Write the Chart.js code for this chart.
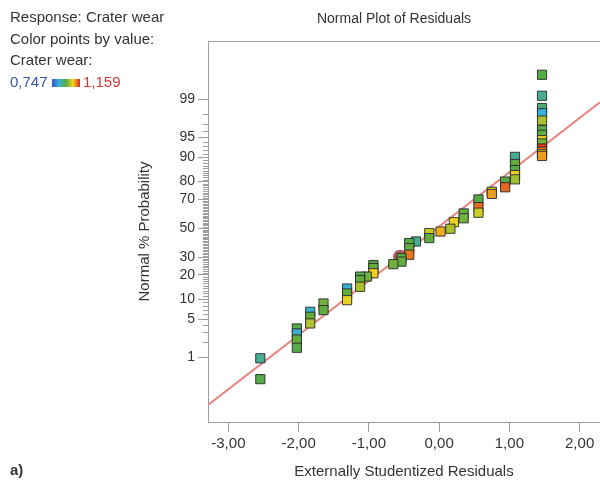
<!DOCTYPE html>
<html>
<head>
<meta charset="utf-8">
<script src="https://cdn.jsdelivr.net/npm/chart.js@4.4.1/dist/chart.umd.min.js"></script>
<style>
  html, body { margin: 0; padding: 0; background: #fff; }
  #wrap { position: relative; width: 600px; height: 482px; font-family: "Liberation Sans", Arial, sans-serif; color: #333; }
  #chart { position: absolute; left: 0; top: 0; }
  .txt { position: absolute; font-size: 15px; line-height: 18px; white-space: nowrap; }
  #bar { position: absolute; left: 52px; top: 79px; width: 28px; height: 8px; }
</style>
</head>
<body>
<div id="wrap">
  <canvas id="chart" width="600" height="482"></canvas>
  <div class="txt" style="left:10px; top:8px;">Response: Crater wear</div>
  <div class="txt" style="left:10px; top:30px;">Color points by value:</div>
  <div class="txt" style="left:10px; top:51px;">Crater wear:</div>
  <div class="txt" id="lo" style="left:10px; top:73px; color:#3a55a3;"></div>
  <div id="bar"></div>
  <div class="txt" id="hi" style="left:83px; top:73px; color:#d4372f;"></div>
  <div class="txt" style="left:294px; top:9px; width:200px; text-align:center; font-size:14px;">Normal Plot of Residuals</div>
  <div class="txt" style="left:10px; top:461px; font-weight:bold;">a)</div>
</div>
<script>
// residuals (x), normal % probability (y), crater wear value (colour)
const residuals = [
  1.465, 1.465, 1.465, 1.465, 1.465, 1.465, 1.465, 1.465, 1.465, 1.465, 1.465, 1.465, 1.465,
  1.08, 1.08, 1.08, 1.08, 1.08,
  0.94, 0.94, 0.75, 0.75, 0.56, 0.56, 0.56, 0.35, 0.35, 0.21, 0.16, 0.02,
  -0.14, -0.14, -0.33, -0.425, -0.425, -0.425, -0.536, -0.536, -0.652,
  -0.936, -0.936, -0.936, -1.03, -1.125, -1.125, -1.125, -1.31, -1.31, -1.31,
  -1.646, -1.646, -1.835, -1.835, -1.835, -2.025, -2.025, -2.025, -2.025, -2.545, -2.545
];
const probabilities = [
  99.72, 99.16, 98.5, 98.1, 97.4, 96.2, 95.4, 94.4, 93.7, 92.5, 91.6, 90.9, 90.4,
  90.1, 87.7, 85.3, 83.1, 81.1,
  80.0, 77.0, 74.5, 73.2, 69.8, 64.8, 61.0, 60.5, 57.1, 54.3, 49.6, 47.6,
  46.4, 42.9, 40.5, 39.4, 35.9, 31.6, 29.5, 27.3, 25.8,
  25.3, 23.6, 20.8, 19.1, 19.1, 17.4, 14.5, 13.8, 11.9, 9.68,
  8.69, 6.94, 6.55, 5.48, 4.27, 3.51, 2.87, 2.22, 1.54, 0.94, 0.32
];
const wearValues = [
  0.95, 0.90, 0.92, 0.85, 1.01, 0.95, 0.96, 1.06, 0.97, 1.15, 1.10, 1.07, 1.09,
  0.90, 0.96, 0.95, 1.05, 1.00,
  0.95, 1.12, 1.04, 1.09, 0.95, 1.12, 1.03, 0.96, 0.97, 1.05, 1.01, 1.08,
  1.03, 0.96, 0.90, 0.95, 0.96, 1.11, 0.95, 0.96, 0.97,
  0.95, 0.96, 1.06, 0.97, 0.94, 0.96, 1.01, 0.86, 0.96, 1.05,
  0.97, 0.96, 0.86, 0.96, 1.01, 0.95, 0.86, 0.96, 0.95, 0.90, 0.95
];
const wearMin = 0.747, wearMax = 1.159;

const highlightResidual = [-0.557];
const highlightProbability = [30.3];

const fitResiduals = [-3.29, 2.29];
const fitProbabilities = [0.0702, 98.85];

const xTickValues = [-3, -2, -1, 0, 1, 2];
const yTickLabels = [1, 5, 10, 20, 30, 50, 70, 80, 90, 95, 99];

const colorStops = [[0, [52, 84, 196]], [0.25, [54, 178, 220]], [0.5, [88, 170, 66]], [0.75, [242, 214, 30]], [1, [222, 36, 34]]];

function wearColor(w) {
  const t = Math.min(1, Math.max(0, (w - wearMin) / (wearMax - wearMin)));
  for (let i = 1; i < colorStops.length; i++) {
    const [t1, c1] = colorStops[i];
    const [t0, c0] = colorStops[i - 1];
    if (t <= t1) {
      const f = (t - t0) / (t1 - t0);
      return 'rgb(' + c0.map((c, k) => Math.round(c + (c1[k] - c) * f)).join(',') + ')';
    }
  }
}

// inverse normal cdf (Acklam)
function probit(p) {
  const a = [-39.69683028665376, 220.9460984245205, -275.9285104469687, 138.3577518672690, -30.66479806614716, 2.506628277459239];
  const b = [-54.47609879822406, 161.5858368580409, -155.6989798598866, 66.80131188771972, -13.28068155288572];
  const c = [-0.007784894002430293, -0.3223964580411365, -2.400758277161838, -2.549732539343734, 4.374664141464968, 2.938163982698783];
  const d = [0.007784695709041462, 0.3224671290700398, 2.445134137142996, 3.754408661907416];
  const pl = 0.02425;
  if (p < pl) {
    const q = Math.sqrt(-2 * Math.log(p));
    return (((((c[0]*q+c[1])*q+c[2])*q+c[3])*q+c[4])*q+c[5]) / ((((d[0]*q+d[1])*q+d[2])*q+d[3])*q+1);
  }
  if (p > 1 - pl) {
    const q = Math.sqrt(-2 * Math.log(1 - p));
    return -(((((c[0]*q+c[1])*q+c[2])*q+c[3])*q+c[4])*q+c[5]) / ((((d[0]*q+d[1])*q+d[2])*q+d[3])*q+1);
  }
  const q = p - 0.5, r = q * q;
  return (((((a[0]*r+a[1])*r+a[2])*r+a[3])*r+a[4])*r+a[5])*q / (((((b[0]*r+b[1])*r+b[2])*r+b[3])*r+b[4])*r+1);
}

document.getElementById('lo').textContent = wearMin.toFixed(3).replace('.', ',');
document.getElementById('hi').textContent = wearMax.toFixed(3).replace('.', ',');
document.getElementById('bar').style.background =
  'linear-gradient(to right,' + colorStops.map(([t]) => wearColor(wearMin + t * (wearMax - wearMin)) + ' ' + (t * 100) + '%').join(',') + ')';

// higher points drawn first so the lower ones sit on top
const order = residuals.map((_, i) => i).sort((a, b) => probabilities[b] - probabilities[a]);
const points = order.map(i => ({ x: residuals[i], y: probit(probabilities[i] / 100) }));
const pointColors = order.map(i => wearColor(wearValues[i]));

const AXIS = '#9c9c9c';
const TEXT = '#333';

const frameAndMinorTicks = {
  id: 'frameAndMinorTicks',
  afterDraw(chart) {
    const { ctx, chartArea: a, scales: { y } } = chart;
    ctx.save();
    ctx.strokeStyle = AXIS;
    ctx.lineWidth = 1;
    ctx.beginPath();
    ctx.moveTo(a.left, a.top + 0.5);
    ctx.lineTo(a.right, a.top + 0.5);
    for (let p = 2; p <= 98; p++) {
      if (yTickLabels.includes(p)) continue;
      const py = Math.round(y.getPixelForValue(probit(p / 100))) + 0.5;
      ctx.moveTo(a.left - 5, py);
      ctx.lineTo(a.left, py);
    }
    ctx.stroke();
    ctx.restore();
  }
};

new Chart(document.getElementById('chart'), {
  type: 'scatter',
  data: {
    datasets: [
      {
        data: points,
        pointStyle: 'rect',
        pointRadius: 6.5,
        pointHoverRadius: 6.5,
        backgroundColor: pointColors,
        borderColor: 'rgba(40,40,40,0.9)',
        borderWidth: 1
      },
      {
        data: highlightResidual.map((x, i) => ({ x, y: probit(highlightProbability[i] / 100) })),
        pointStyle: 'circle',
        pointRadius: 7,
        backgroundColor: 'rgba(168,72,82,0.9)',
        borderColor: 'rgba(168,72,82,0.9)',
        borderWidth: 0
      },
      {
        type: 'line',
        data: fitResiduals.map((x, i) => ({ x, y: probit(fitProbabilities[i] / 100) })),
        borderColor: '#e8807c',
        borderWidth: 2,
        pointRadius: 0,
        fill: false
      }
    ]
  },
  options: {
    responsive: false,
    animation: false,
    layout: { autoPadding: false, padding: { left: 130, top: 41, right: 0, bottom: 0 } },
    plugins: { legend: { display: false }, tooltip: { enabled: false } },
    events: [],
    scales: {
      x: {
        type: 'linear', min: -3.29, max: 2.29,
        afterBuildTicks: s => { s.ticks = xTickValues.map(v => ({ value: v })); },
        afterFit: s => { s.height = 60; },
        ticks: { callback: v => v.toFixed(2).replace('.', ','), font: { size: 15 }, color: TEXT, padding: 3, maxRotation: 0, autoSkip: false },
        grid: { drawOnChartArea: false, tickLength: 10, tickColor: AXIS },
        border: { color: AXIS },
        title: { display: true, text: 'Externally Studentized Residuals', font: { size: 15 }, color: TEXT, padding: { top: 0, bottom: 1 } }
      },
      y: {
        type: 'linear', min: -3.50, max: 3.38,
        afterBuildTicks: s => { s.ticks = yTickLabels.map(p => ({ value: probit(p / 100) })); },
        afterFit: s => { s.width = 78; },
        ticks: { callback: (v, i) => String(yTickLabels[i]), font: { size: 14 }, color: TEXT, padding: 3, autoSkip: false },
        grid: { drawOnChartArea: false, tickLength: 10, tickColor: AXIS },
        border: { color: AXIS },
        title: { display: true, text: 'Normal % Probability', font: { size: 15 }, color: TEXT, padding: { top: 6, bottom: 0 } }
      }
    }
  },
  plugins: [frameAndMinorTicks]
});
</script>
</body>
</html>
